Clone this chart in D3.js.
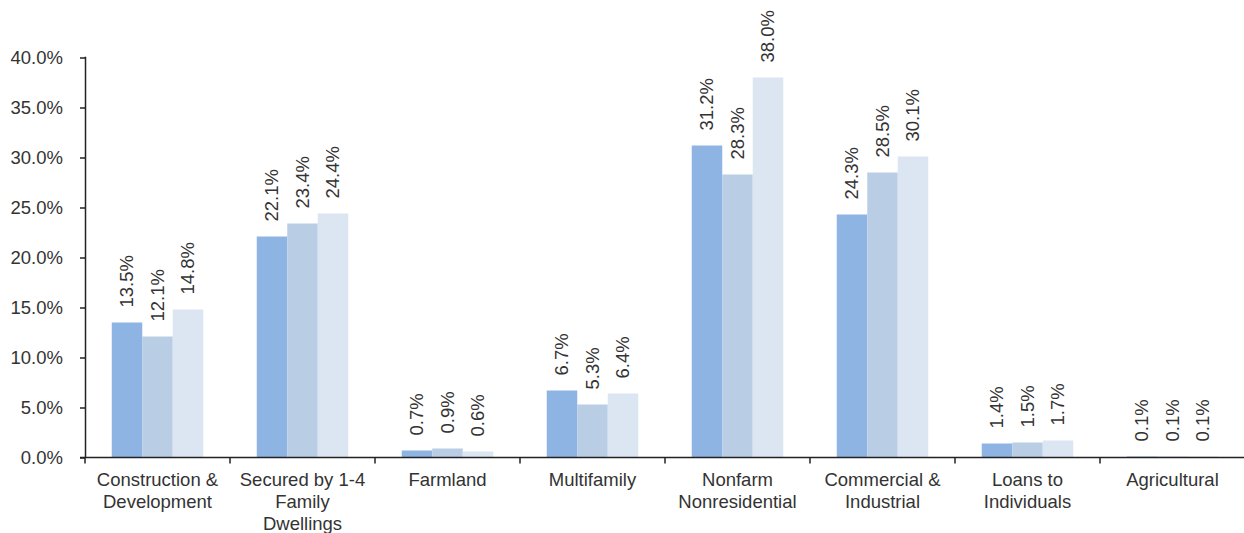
<!DOCTYPE html>
<html>
<head>
<meta charset="utf-8">
<script src="https://cdn.jsdelivr.net/npm/d3@7"></script>
<style>
  html, body { margin: 0; padding: 0; background: #fff; }
  svg { display: block; }
  text { font-family: "Liberation Sans", Arial, sans-serif; fill: #333; }
</style>
</head>
<body>
<svg id="chart" width="1244" height="533"></svg>
<script>
// Loan mix by category, three series (share of total, %)
const categories = [
  ["Construction &", "Development"],
  ["Secured by 1-4", "Family", "Dwellings"],
  ["Farmland"],
  ["Multifamily"],
  ["Nonfarm", "Nonresidential"],
  ["Commercial &", "Industrial"],
  ["Loans to", "Individuals"],
  ["Agricultural"]
];
const series1 = [13.5, 22.1, 0.7, 6.7, 31.2, 24.3, 1.4, 0.1];
const series2 = [12.1, 23.4, 0.9, 5.3, 28.3, 28.5, 1.5, 0.1];
const series3 = [14.8, 24.4, 0.6, 6.4, 38.0, 30.1, 1.7, 0.1];
const yTicks = [0, 5, 10, 15, 20, 25, 30, 35, 40];

const seriesList = [series1, series2, series3];
const colors = ["#8eb4e3", "#b9cde5", "#dce6f2"];

const svg = d3.select("#chart");
const x0 = 85, bandW = 145;
const keys = categories.map((c, i) => i);

const x = d3.scaleBand()
  .domain(keys)
  .range([x0, x0 + bandW * keys.length])
  .paddingInner(0).paddingOuter(0);

const y = d3.scaleLinear().domain([0, 40]).range([457.5, 57.5]);

const groupW = 91.5;
const xs = d3.scaleBand().domain([0, 1, 2]).range([0, groupW]).padding(0);

// bars
seriesList.forEach((vals, s) => {
  svg.append("g").selectAll("rect")
    .data(vals)
    .join("rect")
    .attr("x", (d, i) => x(i) + (x.bandwidth() - groupW) / 2 + xs(s))
    .attr("y", d => y(d))
    .attr("width", xs.bandwidth())
    .attr("height", d => y(0) - y(d))
    .attr("fill", colors[s]);
});

// value labels, rotated
seriesList.forEach((vals, s) => {
  svg.append("g").selectAll("text")
    .data(vals)
    .join("text")
    .attr("transform", (d, i) => {
      const cx = x(i) + (x.bandwidth() - groupW) / 2 + xs(s) + xs.bandwidth() / 2;
      return `translate(${cx},${y(d) - 15}) rotate(-90)`;
    })
    .attr("dy", "0.35em")
    .attr("text-anchor", "start")
    .style("font-size", "18.5px")
    .text(d => d.toFixed(1) + "%");
});

// y axis
const yAxis = d3.axisLeft(y)
  .tickValues(yTicks)
  .tickSize(5)
  .tickPadding(17)
  .tickFormat(d => d.toFixed(1) + "%");
const gy = svg.append("g").attr("transform", `translate(${x0},0)`).call(yAxis);
gy.select(".domain").attr("d", `M-0.5,${y(40)}H0.5V${y(0)}`).attr("stroke", "#222").attr("stroke-width", 1.5);
gy.selectAll(".tick line").attr("stroke", "#222").attr("stroke-width", 1.5);
gy.selectAll(".tick text").style("font-size", "18.5px").attr("fill", "#333");

// x axis line and boundary ticks
const xg = svg.append("g");
xg.append("line")
  .attr("x1", x0 - 5).attr("x2", x0 + bandW * keys.length)
  .attr("y1", y(0)).attr("y2", y(0))
  .attr("stroke", "#222").attr("stroke-width", 1.5);
xg.selectAll("line.tk")
  .data(d3.range(keys.length + 1))
  .join("line")
  .attr("class", "tk")
  .attr("x1", d => x0 + d * bandW).attr("x2", d => x0 + d * bandW)
  .attr("y1", y(0)).attr("y2", y(0) + 6)
  .attr("stroke", "#222").attr("stroke-width", 1.5);

// category labels
const lab = xg.selectAll("text.cat")
  .data(categories)
  .join("text")
  .attr("class", "cat")
  .attr("text-anchor", "middle")
  .style("font-size", "18.5px");
lab.each(function (lines, i) {
  const t = d3.select(this);
  lines.forEach((ln, j) => {
    t.append("tspan")
      .attr("x", x(i) + x.bandwidth() / 2)
      .attr("y", 486 + j * 22)
      .text(ln);
  });
});
</script>
</body>
</html>
